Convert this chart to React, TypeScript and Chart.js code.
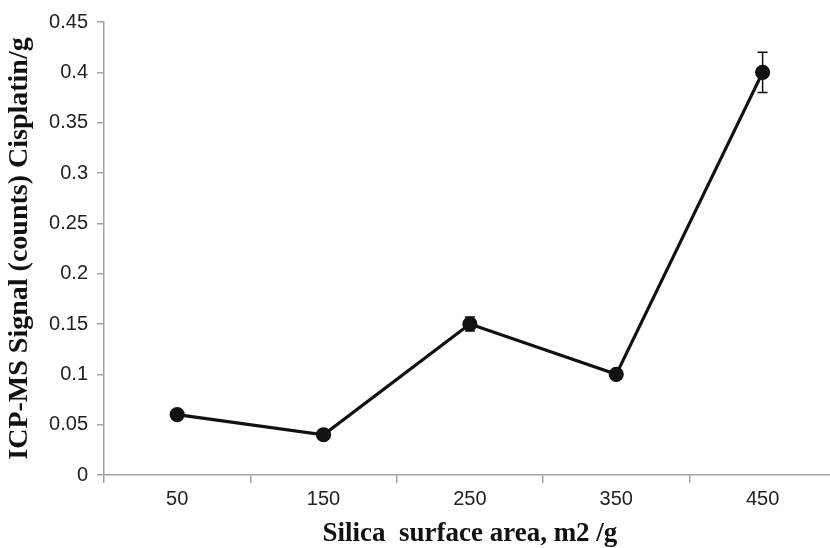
import { useEffect, useRef } from "react";
import { Chart, registerables } from "chart.js";

Chart.register(...registerables);

const categories = ["50", "150", "250", "350", "450"];
const signal = [0.06, 0.04, 0.15, 0.1, 0.4];
const errorValues = [0, 0, 0.007, 0.003, 0.02];
const yTickValues = [0, 0.05, 0.1, 0.15, 0.2, 0.25, 0.3, 0.35, 0.4, 0.45];
const yTitle = "ICP-MS Signal (counts) Cisplatin/g";
const xTitle = "Silica  surface area, m2 /g";

const axisGrey = "#a3a3a3";

const errorBarPlugin = {
  id: "errorBars",
  afterDatasetsDraw(chart: any) {
    const ctx = chart.ctx;
    const meta = chart.getDatasetMeta(0);
    const yScale = chart.scales.y;
    ctx.save();
    ctx.strokeStyle = "#111";
    ctx.lineWidth = 1.5;
    meta.data.forEach((pt: any, i: number) => {
      const e = errorValues[i];
      if (!e) return;
      const x = pt.x;
      const yTop = yScale.getPixelForValue(signal[i] + e);
      const yBot = yScale.getPixelForValue(signal[i] - e);
      ctx.beginPath();
      ctx.moveTo(x, yTop);
      ctx.lineTo(x, yBot);
      ctx.moveTo(x - 5, yTop);
      ctx.lineTo(x + 5, yTop);
      ctx.moveTo(x - 5, yBot);
      ctx.lineTo(x + 5, yBot);
      ctx.stroke();
    });
    ctx.restore();
  },
};

export default function App() {
  const canvasRef = useRef<HTMLCanvasElement | null>(null);

  useEffect(() => {
    if (!canvasRef.current) return;
    const chart = new Chart(canvasRef.current, {
      type: "line",
      data: {
        labels: categories,
        datasets: [
          {
            data: signal,
            borderColor: "#111",
            backgroundColor: "#111",
            borderWidth: 3.2,
            pointRadius: 6,
            pointBackgroundColor: "#111",
            pointBorderColor: "#111",
            tension: 0,
          },
        ],
      },
      options: {
        responsive: false,
        animation: false,
        devicePixelRatio: 1,
        layout: { padding: { top: 22, right: 5, left: 0, bottom: 0 } },
        plugins: {
          legend: { display: false },
          tooltip: { enabled: false },
        },
        scales: {
          x: {
            type: "category",
            offset: true,
            grid: {
              offset: true,
              drawOnChartArea: false,
              tickLength: 8,
              color: axisGrey,
              lineWidth: 1.5,
            },
            border: { color: axisGrey, width: 1.5 },
            ticks: {
              color: "#222",
              padding: 4,
              font: { family: "'Liberation Sans', Arial, sans-serif", size: 20 },
            },
            title: {
              display: true,
              text: xTitle,
              color: "#111",
              padding: { top: 0, bottom: 0 },
              font: {
                family: "'Liberation Serif', 'Times New Roman', serif",
                size: 27,
                weight: "bold",
                lineHeight: 1,
              },
            },
            afterFit(scale: any) {
              scale.height = 73;
            },
          },
          y: {
            min: 0,
            max: 0.45,
            grid: {
              drawOnChartArea: false,
              tickLength: 7,
              color: axisGrey,
              lineWidth: 1.5,
            },
            border: { color: axisGrey, width: 1.5 },
            afterBuildTicks(scale: any) {
              scale.ticks = yTickValues.map((v) => ({ value: v }));
            },
            ticks: {
              color: "#222",
              padding: 9,
              callback: (v: any) => String(Math.round(Number(v) * 100) / 100),
              font: { family: "'Liberation Sans', Arial, sans-serif", size: 20 },
            },
            title: {
              display: true,
              text: yTitle,
              color: "#111",
              padding: { top: 6, bottom: 0 },
              font: {
                family: "'Liberation Serif', 'Times New Roman', serif",
                size: 28,
                weight: "bold",
                lineHeight: 1,
              },
            },
            afterFit(scale: any) {
              scale.width = 104;
            },
          },
        },
      },
      plugins: [errorBarPlugin],
    });
    return () => chart.destroy();
  }, []);

  return (
    <div
      style={{
        position: "fixed",
        left: 0,
        top: 0,
        width: 830,
        height: 548,
        overflow: "hidden",
        background: "#fff",
      }}
    >
      <canvas ref={canvasRef} width={845} height={548} style={{ width: 845, height: 548, display: "block" }} />
    </div>
  );
}
